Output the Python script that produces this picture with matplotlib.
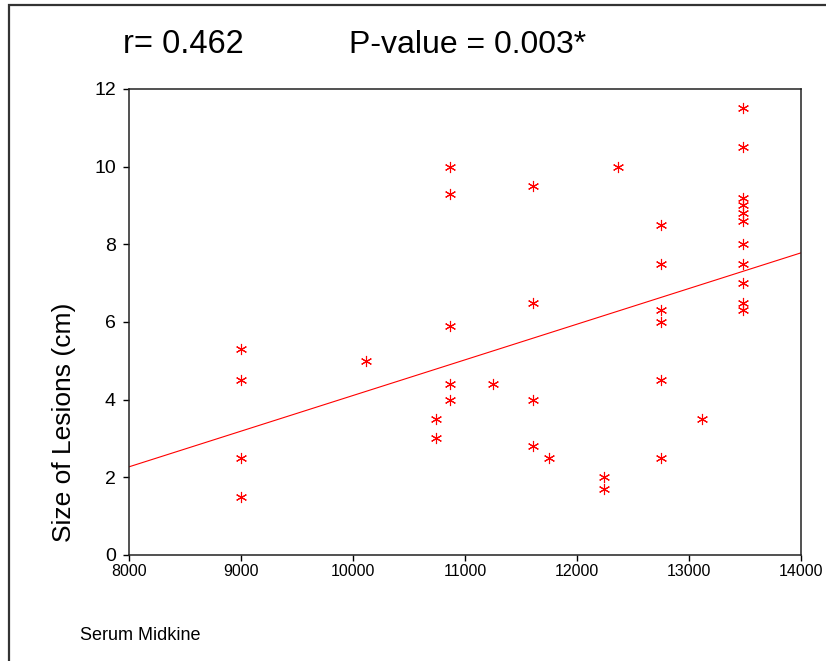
#!/usr/bin/env python
"""Scatter of lesion size against serum midkine with its regression line."""
from __future__ import annotations

import matplotlib

matplotlib.use("Agg")
import matplotlib.pyplot as plt
import numpy as np
from matplotlib.patches import Rectangle

# values
midkine = [
    9000, 9000, 9000, 9000,
    10120,
    10866, 10866, 10866, 10866, 10866,
    10740, 10740,
    11250,
    11610, 11610, 11610, 11610,
    11750,
    12240, 12240,
    12370,
    12750, 12750, 12750, 12750, 12750, 12750,
    13120,
    13480, 13480, 13480, 13480, 13480, 13480, 13480, 13480, 13480, 13480, 13480,
]
lesion_size = [
    5.3, 4.5, 2.5, 1.5,
    5.0,
    10.0, 9.3, 5.9, 4.4, 4.0,
    3.5, 3.0,
    4.4,
    9.5, 6.5, 4.0, 2.8,
    2.5,
    2.0, 1.7,
    10.0,
    8.5, 7.5, 6.3, 6.0, 4.5, 2.5,
    3.5,
    11.5, 10.5, 9.2, 9.0, 8.8, 8.6, 8.0, 7.5, 7.0, 6.5, 6.3,
]
# fitted line as drawn in the reference, at the two ends of the x axis
fit_x = [8000, 14000]
fit_y = [2.27, 7.78]
x_ticks = [8000, 9000, 10000, 11000, 12000, 13000, 14000]
y_ticks = [0, 2, 4, 6, 8, 10, 12]
r_text = "r= 0.462"
p_text = "P-value = 0.003*"

RED = "#ff0000"


def main() -> None:
    plt.rcParams["font.family"] = ["Liberation Sans", "DejaVu Sans"]
    fig = plt.figure(figsize=(8.26, 6.61), dpi=100, facecolor="white")
    ax = fig.add_axes([0.1562, 0.1604, 0.8135, 0.705])

    ax.plot(fit_x, fit_y, color=RED, lw=0.8, zorder=2)
    ax.plot(midkine, lesion_size, ls="none", marker=(6, 2, 0), ms=8, mew=0.8,
            color=RED, zorder=3)

    ax.set_xlim(x_ticks[0], x_ticks[-1])
    ax.set_ylim(y_ticks[0], y_ticks[-1])
    ax.set_xticks(x_ticks)
    ax.set_yticks(y_ticks)
    ax.set_xticklabels([str(t) for t in x_ticks], fontsize=11.5)
    ax.set_yticklabels([str(t) for t in y_ticks], fontsize=14)
    ax.tick_params(axis="both", direction="out", length=4.5, width=1.0, color="black")
    ax.tick_params(axis="x", pad=2)
    ax.tick_params(axis="y", pad=5)
    for spine in ax.spines.values():
        spine.set_linewidth(1.1)
        spine.set_color("#222222")

    fig.text(0.0775, 0.3616, "Size of Lesions (cm)", rotation=90, fontsize=19,
             ha="center", va="center")
    fig.text(0.097, 0.039, "Serum Midkine", fontsize=13, ha="left", va="center")
    fig.text(0.149, 0.932, r_text, fontsize=23.5, ha="left", va="center")
    fig.text(0.4225, 0.932, p_text, fontsize=23, ha="left", va="center")

    fig.patches.append(Rectangle((0.0115, -0.05), 1.1, 1.043, transform=fig.transFigure,
                                 fill=False, lw=1.6, edgecolor="#333333", zorder=5))

    fig.savefig("out.png", dpi=100, facecolor="white")
    plt.close(fig)


if __name__ == "__main__":
    main()
